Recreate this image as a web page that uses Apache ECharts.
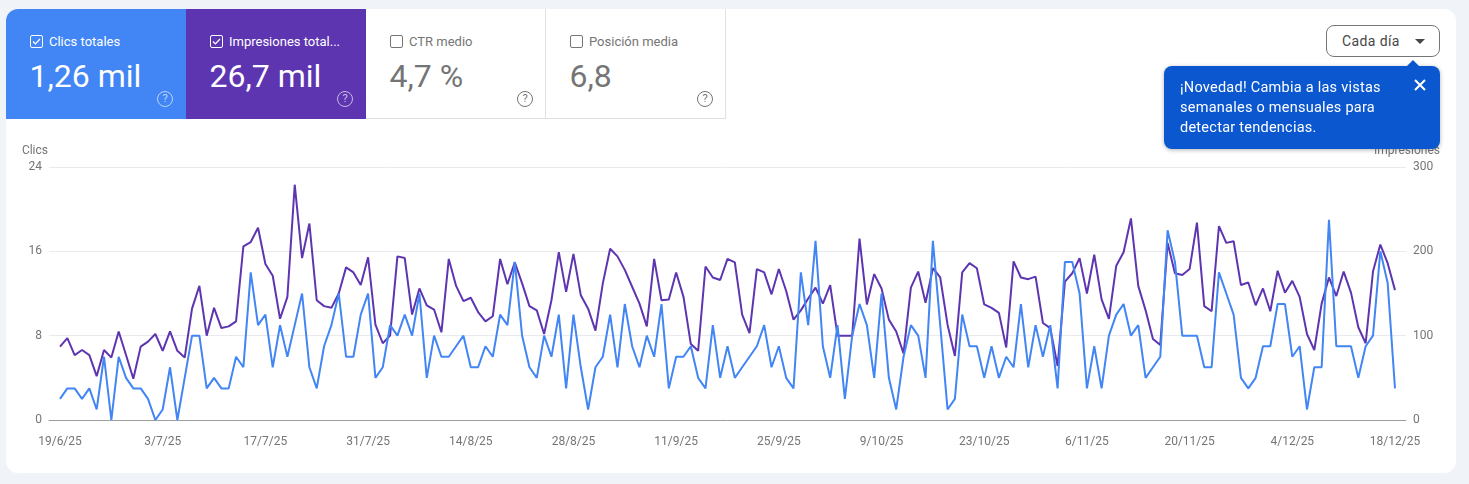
<!DOCTYPE html>
<html lang="es">
<head>
<meta charset="utf-8">
<title>Rendimiento</title>
<script src="https://cdn.jsdelivr.net/npm/echarts@6/dist/echarts.min.js"></script>
<style>
	html, body {margin:0; padding:0; width:1469px; height:484px; overflow:hidden; background:#f0f4f9; font-family:Roboto, sans-serif;}
	.panel {position:absolute; left:6px; top:9px; width:1450px; height:464px; background:#fff; border-radius:12px; overflow:hidden;}
	#myChart {position:absolute; left:0; top:0; width:1469px; height:484px;}
	.card {position:absolute; top:9px; width:180px; height:110px; box-sizing:border-box; color:#757575;}
	.card.off {background:#fff; border-right:1px solid #e0e0e0; border-bottom:1px solid #e0e0e0;}
	.card.on {color:#fff;}
	.card .box {position:absolute; left:24px; top:26px; width:11px; height:11px; border:1px solid currentColor; border-radius:2px;}
	.card .box svg {position:absolute; left:0; top:0;}
	.card .name {position:absolute; left:43px; top:25px; font-size:13px; line-height:16px; white-space:nowrap;}
	.card .num {position:absolute; left:24px; top:47px; font-size:32px; line-height:40px; white-space:nowrap; margin-left:-.5px;}
	.card .help {position:absolute; left:151px; top:82px; width:14px; height:14px; border:1px solid currentColor; border-radius:50%; font-size:11px; line-height:14px; text-align:center; opacity:.65;}
	.card.off .help {opacity:1;}
	.btn {position:absolute; left:1326px; top:25px; width:114px; height:32px; box-sizing:border-box; background:#fff; border:1px solid #747775; border-radius:8px; color:#444746; font-size:14px; line-height:30px; padding-left:15px; letter-spacing:.4px;}
	.btn i {position:absolute; left:88px; top:13px; border-left:5px solid transparent; border-right:5px solid transparent; border-top:5px solid #444746;}
	.tip {position:absolute; left:1164px; top:66px; width:276px; height:83px; box-sizing:border-box; padding:12px 16px 0; background:#0b57d0; border-radius:8px; color:#fff; font-size:14.5px; letter-spacing:.25px; line-height:20px; box-shadow:0 1px 4px rgba(60,64,67,.4);}
	.tip b {position:absolute; left:243px; top:-6px; border-left:6px solid transparent; border-right:6px solid transparent; border-bottom:6px solid #0b57d0;}
	.tip svg {position:absolute; left:250px; top:13px;}
</style>
</head>
<body>
<div class="panel"></div>
<div id="myChart"></div>

<div class="card on" style="left:6px; background:#4285f4; border-top-left-radius:12px;">
	<span class="box"><svg width="11" height="11" viewBox="0 0 11 11"><path d="M2 5.5l2.4 2.4L9 3" fill="none" stroke="#fff" stroke-width="1.3"/></svg></span>
	<span class="name">Clics totales</span><span class="num">1,26 mil</span><span class="help">?</span>
</div>
<div class="card on" style="left:186px; background:#5e35b1;">
	<span class="box"><svg width="11" height="11" viewBox="0 0 11 11"><path d="M2 5.5l2.4 2.4L9 3" fill="none" stroke="#fff" stroke-width="1.3"/></svg></span>
	<span class="name">Impresiones total...</span><span class="num">26,7 mil</span><span class="help">?</span>
</div>
<div class="card off" style="left:366px;">
	<span class="box"></span>
	<span class="name">CTR medio</span><span class="num">4,7 %</span><span class="help">?</span>
</div>
<div class="card off" style="left:546px;">
	<span class="box"></span>
	<span class="name">Posición media</span><span class="num">6,8</span><span class="help">?</span>
</div>

<div class="btn">Cada día<i></i></div>
<div class="tip">
	<b></b>
	¡Novedad! Cambia a las vistas<br>semanales o mensuales para<br>detectar tendencias.
	<svg width="12" height="12" viewBox="0 0 12 12"><path d="M1 1l10 10M11 1L1 11" stroke="#fff" stroke-width="2"/></svg>
</div>

<script>
	var dates = [
		'19/6/25','20/6/25','21/6/25','22/6/25','23/6/25','24/6/25','25/6/25','26/6/25','27/6/25','28/6/25','29/6/25','30/6/25',
		'1/7/25','2/7/25','3/7/25','4/7/25','5/7/25','6/7/25','7/7/25','8/7/25','9/7/25','10/7/25','11/7/25','12/7/25','13/7/25','14/7/25','15/7/25','16/7/25','17/7/25','18/7/25','19/7/25','20/7/25','21/7/25','22/7/25','23/7/25','24/7/25','25/7/25','26/7/25','27/7/25','28/7/25','29/7/25','30/7/25','31/7/25',
		'1/8/25','2/8/25','3/8/25','4/8/25','5/8/25','6/8/25','7/8/25','8/8/25','9/8/25','10/8/25','11/8/25','12/8/25','13/8/25','14/8/25','15/8/25','16/8/25','17/8/25','18/8/25','19/8/25','20/8/25','21/8/25','22/8/25','23/8/25','24/8/25','25/8/25','26/8/25','27/8/25','28/8/25','29/8/25','30/8/25','31/8/25',
		'1/9/25','2/9/25','3/9/25','4/9/25','5/9/25','6/9/25','7/9/25','8/9/25','9/9/25','10/9/25','11/9/25','12/9/25','13/9/25','14/9/25','15/9/25','16/9/25','17/9/25','18/9/25','19/9/25','20/9/25','21/9/25','22/9/25','23/9/25','24/9/25','25/9/25','26/9/25','27/9/25','28/9/25','29/9/25','30/9/25',
		'1/10/25','2/10/25','3/10/25','4/10/25','5/10/25','6/10/25','7/10/25','8/10/25','9/10/25','10/10/25','11/10/25','12/10/25','13/10/25','14/10/25','15/10/25','16/10/25','17/10/25','18/10/25','19/10/25','20/10/25','21/10/25','22/10/25','23/10/25','24/10/25','25/10/25','26/10/25','27/10/25','28/10/25','29/10/25','30/10/25','31/10/25',
		'1/11/25','2/11/25','3/11/25','4/11/25','5/11/25','6/11/25','7/11/25','8/11/25','9/11/25','10/11/25','11/11/25','12/11/25','13/11/25','14/11/25','15/11/25','16/11/25','17/11/25','18/11/25','19/11/25','20/11/25','21/11/25','22/11/25','23/11/25','24/11/25','25/11/25','26/11/25','27/11/25','28/11/25','29/11/25','30/11/25',
		'1/12/25','2/12/25','3/12/25','4/12/25','5/12/25','6/12/25','7/12/25','8/12/25','9/12/25','10/12/25','11/12/25','12/12/25','13/12/25','14/12/25','15/12/25','16/12/25','17/12/25','18/12/25'
	];
	var tickLabels = ['19/6/25','3/7/25','17/7/25','31/7/25','14/8/25','28/8/25','11/9/25','25/9/25','9/10/25','23/10/25','6/11/25','20/11/25','4/12/25','18/12/25'];
	var clics = [
		2,3,3,2,3,1,6,0,6,4,3,3,2,0,1,5,0,4,8,8,3,4,3,3,6,5,14,9,10,5,9,6,9,12,5,3,7,9,12,6,6,10,12,4,5,
		9,8,10,8,12,4,8,6,6,7,8,5,5,7,6,10,9,15,8,5,4,8,6,10,3,10,5,1,5,6,10,5,11,7,5,8,6,11,3,6,6,7,4,3,9,4,
		7,4,5,6,7,9,5,7,4,3,14,9,17,7,4,9,2,8,11,9,4,12,4,1,6,9,8,4,17,9,1,2,10,7,7,4,7,4,6,5,11,5,9,6,9,3,
		15,15,12,3,7,3,8,10,11,8,9,4,5,6,18,15,8,8,8,5,5,14,12,10,4,3,4,7,7,11,11,6,7,1,5,5,19,7,7,7,4,7,8,16,13,3
	];
	var impresiones = [
		87,97,77,83,77,52,83,74,105,77,49,87,93,102,82,105,82,74,132,159,100,133,109,111,117,206,211,228,185,171,120,146,279,192,233,142,135,133,150,181,175,160,193,113,91,
		100,194,192,125,156,136,131,104,191,159,141,145,128,117,123,191,161,187,162,135,130,102,142,199,152,197,148,132,106,162,203,194,178,158,138,111,191,142,143,175,146,90,82,182,169,166,
		191,187,125,103,179,175,149,179,153,119,130,144,157,138,160,100,100,100,215,137,173,156,119,105,79,157,176,139,180,169,113,76,175,186,180,137,133,127,86,188,169,167,170,115,109,64,
		164,174,192,150,196,143,120,183,199,239,159,130,96,89,210,174,172,179,234,135,129,230,210,212,160,163,136,156,129,177,151,165,146,102,83,138,169,147,176,151,110,91,176,208,186,154
	];

	// una categoria vacia a cada lado para que la rejilla sobresalga de las lineas
	var categorias = [''].concat(dates, ['']);
	var serieClics = [null].concat(clics, [null]);
	var serieImpresiones = [null].concat(impresiones, [null]);

	var gris = '#757575';
	var myChart = echarts.init(document.getElementById('myChart'));
	var option = {
		animation: false,
		grid: {left: 49, right: 63, top: 167, bottom: 64},
		xAxis: {
			type: 'category',
			boundaryGap: true,
			data: categorias,
			axisTick: {show: false},
			axisLine: {lineStyle: {color: '#9e9e9e', width: 1}},
			axisLabel: {
				color: gris,
				fontFamily: 'Roboto',
				fontSize: 12,
				margin: 16,
				interval: function (index, value) {
					return tickLabels.indexOf(value) !== -1;
				}
			}
		},
		yAxis: [
			{
				type: 'value',
				min: 0,
				max: 24,
				interval: 8,
				name: 'Clics',
				nameLocation: 'end',
				nameGap: 16,
				nameTextStyle: {color: gris, fontFamily: 'Roboto', fontSize: 12, align: 'right', verticalAlign: 'middle', padding: [0, 1, 0, 0]},
				axisLine: {show: false},
				axisTick: {show: false},
				axisLabel: {color: gris, fontFamily: 'Roboto', fontSize: 12, margin: 7, padding: [3, 0, 0, 0]},
				splitLine: {lineStyle: {color: '#e8eaed', width: 1}}
			},
			{
				type: 'value',
				min: 0,
				max: 300,
				interval: 100,
				name: 'Impresiones',
				nameLocation: 'end',
				nameGap: 16,
				nameTextStyle: {color: gris, fontFamily: 'Roboto', fontSize: 12, align: 'right', verticalAlign: 'middle', padding: [0, -34, 0, 0]},
				axisLine: {show: false},
				axisTick: {show: false},
				axisLabel: {color: gris, fontFamily: 'Roboto', fontSize: 12, margin: 7, padding: [3, 0, 0, 0]},
				splitLine: {show: false}
			}
		],
		series: [
			{
				name: 'Impresiones',
				type: 'line',
				yAxisIndex: 1,
				data: serieImpresiones,
				showSymbol: false,
				lineStyle: {color: '#5e35b1', width: 2},
				itemStyle: {color: '#5e35b1'}
			},
			{
				name: 'Clics',
				type: 'line',
				yAxisIndex: 0,
				data: serieClics,
				showSymbol: false,
				lineStyle: {color: '#4285f4', width: 2},
				itemStyle: {color: '#4285f4'}
			}
		]
	};
	myChart.setOption(option);
</script>
</body>
</html>
